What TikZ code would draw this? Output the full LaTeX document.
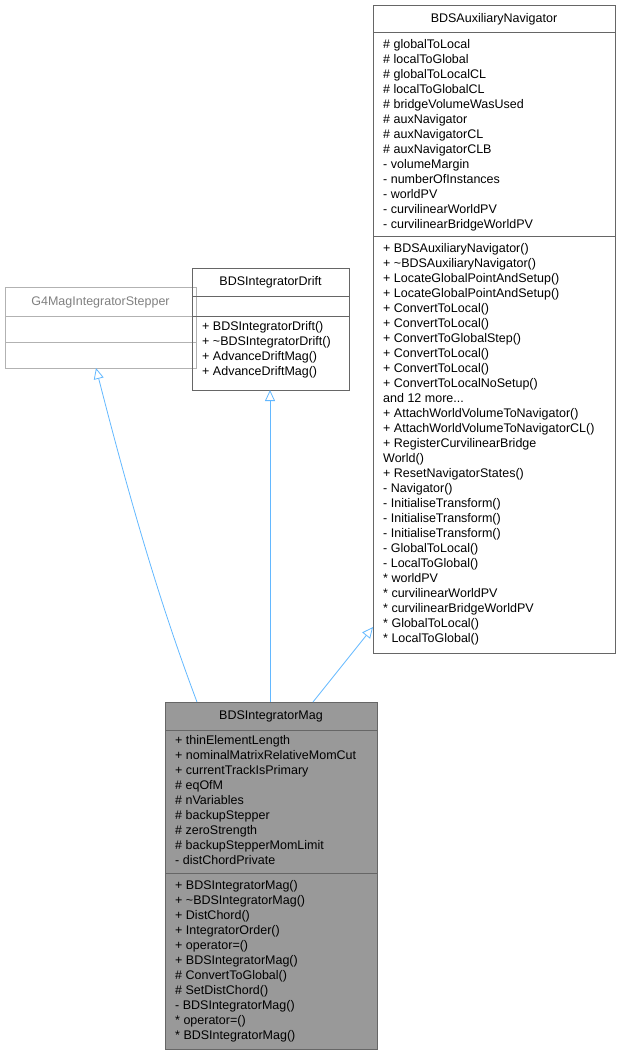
\documentclass[tikz,border=0pt]{standalone}
\usepackage{fontspec}
\setmainfont{Liberation Sans}
\usetikzlibrary{arrows.meta}
\definecolor{edge}{HTML}{63B8FF}
\definecolor{bord}{HTML}{666666}
\tikzset{
  box/.style={draw=bord, line width=0.8pt, anchor=north west, inner sep=0pt},
  ttl/.style={anchor=center, font=\fontsize{12.5}{15}\selectfont},
  txt/.style={anchor=north west, align=left, inner sep=0pt, font=\fontsize{12.5}{15}\selectfont},
  inh/.style={draw=edge, line width=0.8pt, -{Triangle[open, length=11pt, width=10pt]}}
}
\begin{document}
\begin{tikzpicture}[x=1pt,y=-1pt]
\useasboundingbox (0,0) rectangle (622,1055);
% G4MagIntegratorStepper
\node[box, draw=gray!60, minimum width=191pt, minimum height=81pt] (g4) at (5,287) {};
\draw[gray!60, line width=0.8pt] (5,316) -- (196,316) (5,342) -- (196,342);
\node[ttl, text=gray] at (100.5,302) {G4MagIntegratorStepper};
% BDSIntegratorDrift
\node[box, minimum width=157pt, minimum height=122pt] (drift) at (192,268) {};
\draw[bord, line width=0.8pt] (192,296) -- (349,296) (192,316) -- (349,316);
\node[ttl] at (270.5,282) {BDSIntegratorDrift};
\node[txt] at (202,321) {+ BDSIntegratorDrift()\\+ \textasciitilde BDSIntegratorDrift()\\+ AdvanceDriftMag()\\+ AdvanceDriftMag()};
% BDSAuxiliaryNavigator
\node[box, minimum width=242pt, minimum height=648pt] (nav) at (373,5) {};
\draw[bord, line width=0.8pt] (373,32) -- (615,32) (373,236) -- (615,236);
\node[ttl] at (494,19) {BDSAuxiliaryNavigator};
\node[txt] at (383,39) {\# globalToLocal\\\# localToGlobal\\\# globalToLocalCL\\\# localToGlobalCL\\\# bridgeVolumeWasUsed\\\# auxNavigator\\\# auxNavigatorCL\\\# auxNavigatorCLB\\- volumeMargin\\- numberOfInstances\\- worldPV\\- curvilinearWorldPV\\- curvilinearBridgeWorldPV};
\node[txt] at (383,243) {+ BDSAuxiliaryNavigator()\\+ \textasciitilde BDSAuxiliaryNavigator()\\+ LocateGlobalPointAndSetup()\\+ LocateGlobalPointAndSetup()\\+ ConvertToLocal()\\+ ConvertToLocal()\\+ ConvertToGlobalStep()\\+ ConvertToLocal()\\+ ConvertToLocal()\\+ ConvertToLocalNoSetup()\\and 12 more...\\+ AttachWorldVolumeToNavigator()\\+ AttachWorldVolumeToNavigatorCL()\\+ RegisterCurvilinearBridge\\World()\\+ ResetNavigatorStates()\\- Navigator()\\- InitialiseTransform()\\- InitialiseTransform()\\- InitialiseTransform()\\- GlobalToLocal()\\- LocalToGlobal()\\* worldPV\\* curvilinearWorldPV\\* curvilinearBridgeWorldPV\\* GlobalToLocal()\\* LocalToGlobal()};
% BDSIntegratorMag
\node[box, fill=gray!80, minimum width=212pt, minimum height=347pt] (mag) at (165,702) {};
\draw[bord, line width=0.8pt] (165,730) -- (377,730) (165,873) -- (377,873);
\node[ttl] at (271,716) {BDSIntegratorMag};
\node[txt] at (175,735) {+ thinElementLength\\+ nominalMatrixRelativeMomCut\\+ currentTrackIsPrimary\\\# eqOfM\\\# nVariables\\\# backupStepper\\\# zeroStrength\\\# backupStepperMomLimit\\- distChordPrivate};
\node[txt] at (175,880) {+ BDSIntegratorMag()\\+ \textasciitilde BDSIntegratorMag()\\+ DistChord()\\+ IntegratorOrder()\\+ operator=()\\+ BDSIntegratorMag()\\\# ConvertToGlobal()\\\# SetDistChord()\\- BDSIntegratorMag()\\* operator=()\\* BDSIntegratorMag()};
% inheritance
\coordinate (m1) at (197,702);
\coordinate (m2) at (270,702);
\coordinate (m3) at (313,702);
\coordinate (p1) at (96,368);
\coordinate (p2) at (270,390);
\coordinate (p3) at (373,627);
\draw[inh] (m1) .. controls (170,630) and (140,540) .. (p1);
\draw[inh] (m2) -- (p2);
\draw[inh] (m3) -- (p3);
\end{tikzpicture}
\end{document}
